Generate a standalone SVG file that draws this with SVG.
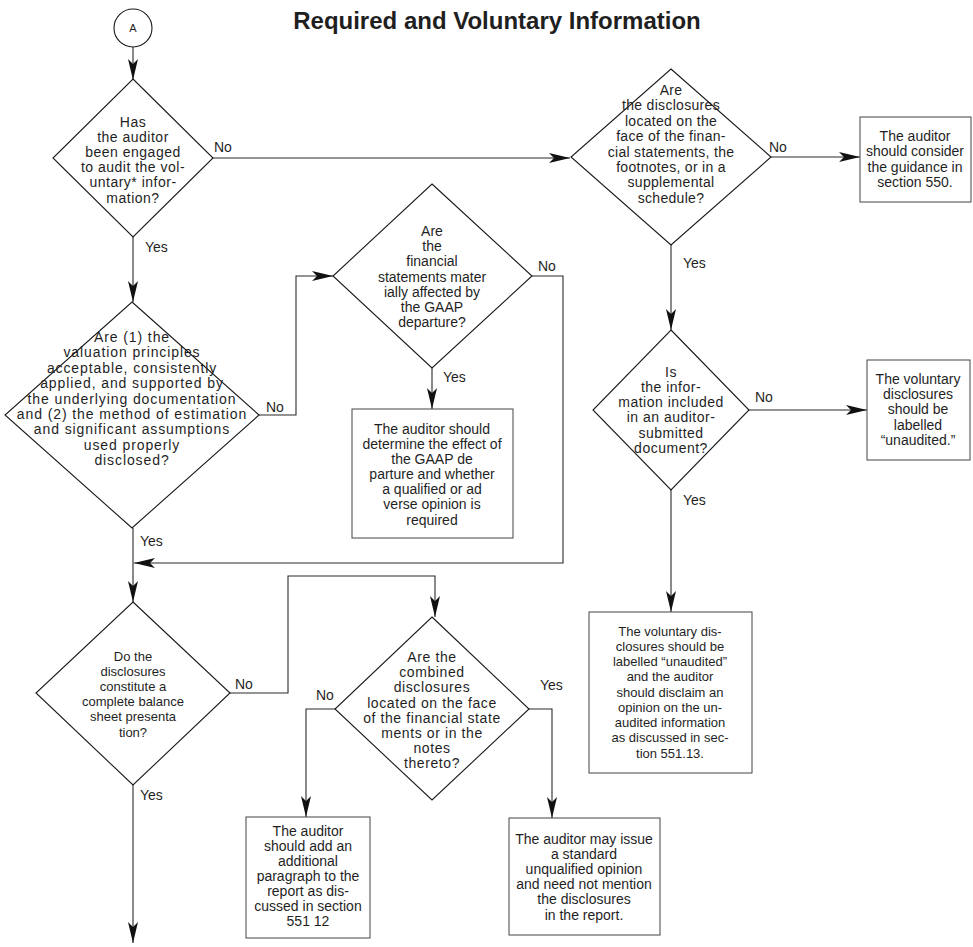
<svg xmlns="http://www.w3.org/2000/svg" width="973" height="947" viewBox="0 0 973 947">
<style>
text{font-family:"Liberation Sans",Arial,sans-serif;fill:#1f1f1f}
.t{font-size:14px;text-anchor:middle}
.l{font-size:14px}
.d1 text{letter-spacing:0.5px}
.d2 text{letter-spacing:0.9px}
.d4 text{font-size:13px}
.d5 text{letter-spacing:0.6px}
.d6 text{letter-spacing:0.3px}
.d7 text{letter-spacing:0.5px}
.b8 text{font-size:13px}
.shape{fill:#fff;stroke:#1a1a1a;stroke-width:1.1}
.box{fill:#fff;stroke:#444;stroke-width:1}
.c{fill:none;stroke:#2a2a2a;stroke-width:1.1}
</style>
<defs>
<marker id="ah" markerWidth="24" markerHeight="12" refX="22" refY="6" orient="auto" markerUnits="userSpaceOnUse" viewBox="0 0 24 12">
<path d="M22,6 L1,1 L6,6 L1,11 Z" fill="#111"/>
</marker>
</defs>
<rect width="973" height="947" fill="#fff"/>
<text x="497" y="29" style="font-size:24px;font-weight:bold;text-anchor:middle">Required and Voluntary Information</text>

<g id="connectors">
<path class="c" d="M133,47 L133,80" marker-end="url(#ah)"/>
<path class="c" d="M213,158 L570,158" marker-end="url(#ah)"/>
<path class="c" d="M133,237 L133,302" marker-end="url(#ah)"/>
<path class="c" d="M259,415 L296,415 L296,276 L333,276" marker-end="url(#ah)"/>
<path class="c" d="M432,368 L432,409" marker-end="url(#ah)"/>
<path class="c" d="M532,276 L563,276 L563,563 L134,563" marker-end="url(#ah)"/>
<path class="c" d="M133,528 L133,602" marker-end="url(#ah)"/>
<path class="c" d="M230,693 L288,693 L288,576 L435,576 L435,617" marker-end="url(#ah)"/>
<path class="c" d="M335,709 L306,709 L306,817" marker-end="url(#ah)"/>
<path class="c" d="M529,709 L552,709 L552,818" marker-end="url(#ah)"/>
<path class="c" d="M133,785 L133,943" marker-end="url(#ah)"/>
<path class="c" d="M771,157 L860,157" marker-end="url(#ah)"/>
<path class="c" d="M671,245 L671,330" marker-end="url(#ah)"/>
<path class="c" d="M749,410 L867,410" marker-end="url(#ah)"/>
<path class="c" d="M671,490 L671,612" marker-end="url(#ah)"/>
<text class="l" x="214" y="152">No</text>
<text class="l" x="145" y="252">Yes</text>
<text class="l" x="266" y="412">No</text>
<text class="l" x="443" y="382">Yes</text>
<text class="l" x="538" y="271">No</text>
<text class="l" x="140" y="546">Yes</text>
<text class="l" x="235" y="689">No</text>
<text class="l" x="316" y="700">No</text>
<text class="l" x="540" y="690">Yes</text>
<text class="l" x="140" y="800">Yes</text>
<text class="l" x="769" y="152">No</text>
<text class="l" x="683" y="268">Yes</text>
<text class="l" x="755" y="402">No</text>
<text class="l" x="683" y="505">Yes</text>
</g>

<g id="start-A">
<circle class="shape" cx="133" cy="28" r="19"/>
<text x="133" y="32" style="font-size:11px;text-anchor:middle">A</text>
</g>

<g id="q-engaged" class="d1">
<polygon class="shape" points="133,79 213,158 133,237 53,158"/>
<text class="t" x="133" y="127">Has</text>
<text class="t" x="133" y="142">the auditor</text>
<text class="t" x="133" y="157">been engaged</text>
<text class="t" x="133" y="172">to audit  the vol-</text>
<text class="t" x="133" y="187">untary* infor-</text>
<text class="t" x="133" y="203">mation?</text>
</g>

<g id="q-valuation" class="d2">
<polygon class="shape" points="132,302 259,415 132,528 5,415"/>
<text class="t" x="132" y="342">Are (1) the</text>
<text class="t" x="132" y="357">valuation principles</text>
<text class="t" x="132" y="373">acceptable, consistently</text>
<text class="t" x="132" y="388">applied, and supported by</text>
<text class="t" x="132" y="404">the underlying documentation</text>
<text class="t" x="132" y="419">and (2) the method of estimation</text>
<text class="t" x="132" y="434">and significant assumptions</text>
<text class="t" x="132" y="450">used properly</text>
<text class="t" x="132" y="465">disclosed?</text>
</g>

<g id="q-material">
<polygon class="shape" points="432,184 532,276 432,368 333,276"/>
<text class="t" x="432" y="236">Are</text>
<text class="t" x="432" y="251">the</text>
<text class="t" x="432" y="266">financial</text>
<text class="t" x="432" y="282">statements mater</text>
<text class="t" x="432" y="297">ially affected by</text>
<text class="t" x="432" y="312">the GAAP</text>
<text class="t" x="432" y="327">departure?</text>
</g>

<g id="b-gaap">
<rect class="box" x="352" y="409" width="161" height="129"/>
<text class="t" x="432" y="434">The auditor should</text>
<text class="t" x="432" y="449">determine the effect of</text>
<text class="t" x="432" y="464">the GAAP de</text>
<text class="t" x="432" y="479">parture and whether</text>
<text class="t" x="432" y="494">a qualified or ad</text>
<text class="t" x="432" y="509">verse opinion is</text>
<text class="t" x="432" y="525">required</text>
</g>

<g id="q-balance" class="d4">
<polygon class="shape" points="133,602 230,693 133,785 36,693"/>
<text class="t" x="133" y="661">Do the</text>
<text class="t" x="133" y="676">disclosures</text>
<text class="t" x="133" y="691">constitute a</text>
<text class="t" x="133" y="706">complete balance</text>
<text class="t" x="133" y="721">sheet presenta</text>
<text class="t" x="133" y="737">tion?</text>
</g>

<g id="q-combined" class="d5">
<polygon class="shape" points="432,617 529,709 432,800 335,709"/>
<text class="t" x="432" y="662">Are the</text>
<text class="t" x="432" y="677">combined</text>
<text class="t" x="432" y="692">disclosures</text>
<text class="t" x="432" y="708">located on the face</text>
<text class="t" x="432" y="723">of the financial state</text>
<text class="t" x="432" y="738">ments or in the</text>
<text class="t" x="432" y="753">notes</text>
<text class="t" x="432" y="768">thereto?</text>
</g>

<g id="b-paragraph">
<rect class="box" x="246" y="817" width="124" height="121"/>
<text class="t" x="308" y="836">The auditor</text>
<text class="t" x="308" y="851">should add an</text>
<text class="t" x="308" y="866">additional</text>
<text class="t" x="308" y="881">paragraph to the</text>
<text class="t" x="308" y="896">report as dis-</text>
<text class="t" x="308" y="911">cussed in section</text>
<text class="t" x="308" y="926">551 12</text>
</g>

<g id="b-standard">
<rect class="box" x="509" y="818" width="151" height="117"/>
<text class="t" x="584" y="844">The auditor may issue</text>
<text class="t" x="584" y="859">a standard</text>
<text class="t" x="584" y="874">unqualified opinion</text>
<text class="t" x="584" y="889">and need not mention</text>
<text class="t" x="584" y="904">the disclosures</text>
<text class="t" x="584" y="920">in the report.</text>
</g>

<g id="q-located" class="d6">
<polygon class="shape" points="671,69 771,157 671,245 571,157"/>
<text class="t" x="671" y="95">Are</text>
<text class="t" x="671" y="110">the disclosures</text>
<text class="t" x="671" y="126">located on the</text>
<text class="t" x="671" y="141">face of the finan-</text>
<text class="t" x="671" y="157">cial statements, the</text>
<text class="t" x="671" y="172">footnotes, or in a</text>
<text class="t" x="671" y="187">supplemental</text>
<text class="t" x="671" y="203">schedule?</text>
</g>

<g id="b-550">
<rect class="box" x="860" y="117" width="111" height="85"/>
<text class="t" x="915" y="141">The auditor</text>
<text class="t" x="915" y="156">should consider</text>
<text class="t" x="915" y="172">the guidance in</text>
<text class="t" x="915" y="187">section 550.</text>
</g>

<g id="q-submitted" class="d7">
<polygon class="shape" points="671,330 749,410 671,490 593,410"/>
<text class="t" x="671" y="377">Is</text>
<text class="t" x="671" y="392">the infor-</text>
<text class="t" x="671" y="407">mation included</text>
<text class="t" x="671" y="422">in an auditor-</text>
<text class="t" x="671" y="438">submitted</text>
<text class="t" x="671" y="453">document?</text>
</g>

<g id="b-unaudited">
<rect class="box" x="867" y="360" width="103" height="100"/>
<text class="t" x="918" y="384">The voluntary</text>
<text class="t" x="918" y="399">disclosures</text>
<text class="t" x="918" y="414">should be</text>
<text class="t" x="918" y="430">labelled</text>
<text class="t" x="918" y="445">“unaudited.”</text>
</g>

<g id="b-disclaim" class="b8">
<rect class="box" x="589" y="612" width="163" height="161"/>
<text class="t" x="670" y="636">The voluntary dis-</text>
<text class="t" x="670" y="651">closures should be</text>
<text class="t" x="670" y="666">labelled “unaudited”</text>
<text class="t" x="670" y="681">and the auditor</text>
<text class="t" x="670" y="697">should disclaim an</text>
<text class="t" x="670" y="712">opinion on the un-</text>
<text class="t" x="670" y="727">audited information</text>
<text class="t" x="670" y="742">as discussed in sec-</text>
<text class="t" x="670" y="758">tion 551.13.</text>
</g>
</svg>
